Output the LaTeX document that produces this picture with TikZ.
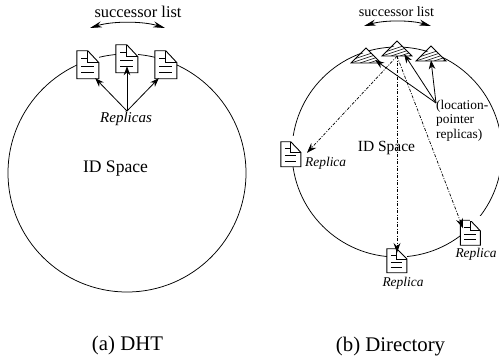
\documentclass[tikz,border=0pt]{standalone}
\usepackage{fontspec}
\setmainfont{Liberation Serif}
\usetikzlibrary{arrows.meta,calc}
\tikzset{
  ln/.style={line width=0.8pt,black},
  arr/.style={ln,-{Stealth[length=9pt,width=6.5pt]}},
  arrd/.style={line width=0.7pt,dash pattern=on 3pt off 1.5pt on 1pt off 1.5pt,-{Stealth[length=10pt,width=7pt,inset=3.5pt]}},
  twoarr/.style={ln,{Stealth[length=12pt,width=6pt]}-{Stealth[length=12pt,width=6pt]}},
  ringa/.style={circle,draw,line width=0.75pt,inner sep=0pt,minimum size=238pt},
  ringb/.style={circle,draw,line width=0.75pt,inner sep=0pt,minimum size=210pt},
  txt/.style={inner sep=0pt,anchor=base},
  mask/.style={fill=white,draw=none,inner sep=0pt}
}
\newcommand{\fs}[1]{\fontsize{#1}{#1}\selectfont}
% name, centre x, centre y, width, height
\newcommand{\docicon}[5]{%
  \node[mask,minimum width=#4pt,minimum height=#5pt] (#1) at (#2,#3) {};
  \begin{scope}[shift={(#1.north west)},line width=0.9pt,x=1pt,y=-1pt]
    \draw[fill=white] (0,0) -- ({#4*0.5},0) -- (#4,{#5*0.42}) -- (#4,#5) -- (0,#5) -- cycle;
    \draw[line width=0.7pt] ({#4*0.5},0) -- ({#4*0.5},{#5*0.42}) -- (#4,{#5*0.42});
    \draw[line width=0.7pt] ({#4*0.2},{#5*0.27}) -- ({#4*0.5},{#5*0.27});
    \draw[line width=0.7pt] ({#4*0.2},{#5*0.55}) -- ({#4*0.78},{#5*0.55});
    \draw[line width=0.7pt] ({#4*0.2},{#5*0.77}) -- ({#4*0.78},{#5*0.77});
  \end{scope}}
% name, apex x, apex y
\newcommand{\tricon}[3]{%
  \node[inner sep=0pt,minimum width=30pt,minimum height=15pt] (#1) at (#2,#3+7.5) {};
  \begin{scope}
    \clip (#2,#3) -- (#2+15,#3+15) -- (#2-15,#3+15) -- cycle;
    \fill[white] (#2-15,#3) rectangle (#2+15,#3+15);
    \foreach \k in {-30,-21,...,60}
      \draw[line width=0.5pt] (#2-15+\k-15,#3+15) -- (#2-15+\k+15,#3+5);
  \end{scope}
  \draw[line width=0.8pt] (#2,#3) -- (#2+15,#3+15) -- (#2-15,#3+15) -- cycle;}
\begin{document}
\begin{tikzpicture}[x=1pt,y=-1pt]
\useasboundingbox (0,0) rectangle (499,358);
\clip (0,0) rectangle (499,358);
\fill[white] (0,0) rectangle (499,358);
% left panel
\node[ringa] (c1) at (127,173) {};
\node[txt,font=\fs{16.4}] (t1) at (138,18) {successor list};
\coordinate (a1l) at (90,28);
\coordinate (a1r) at (165,28);
\draw[twoarr] (a1l) .. controls (112,21) and (143,21) .. (a1r);
\docicon{d1}{88}{65}{22}{28}
\docicon{d2}{127}{59}{22}{28}
\docicon{d3}{166}{65}{22}{28}
\node[txt,font=\fs{15}\itshape] (rp) at (126,123) {Replicas};
\coordinate (rs) at (127,111);
\draw[arr] (rs) -- ([xshift=-4pt,yshift=1pt]d1.south east);
\draw[arr] (rs) -- ([yshift=7pt]d2.south);
\draw[arr] (rs) -- ([xshift=4pt,yshift=1pt]d3.south west);
\node[txt,font=\fs{17.6}] (ids1) at (115.5,173) {ID Space};
\node[txt,font=\fs{20.8}] (cap1) at (127.5,351) {(a) DHT};
% right panel
\node[ringb] (c2) at (397,152) {};
\node[txt,font=\fs{14.2}] (t2) at (396.5,17) {successor list};
\coordinate (a2l) at (364,26);
\coordinate (a2r) at (431,26);
\draw[twoarr] (a2l) .. controls (384,20) and (411,20) .. (a2r);
\tricon{p1}{366}{48}
\tricon{p2}{397}{41}
\tricon{p3}{431}{46}
\fill[white] (288,136) rectangle (298,142);
\docicon{r1}{291}{154.5}{20}{25}
\docicon{r2}{397}{261}{20}{24}
\docicon{r3}{470.5}{233}{20}{25}
\fill[white] (470,216) rectangle (484,221);
\node[txt,anchor=base west,font=\fs{13.4}\itshape] (rl1) at (305,167) {Replica};
\node[txt,font=\fs{13.4}\itshape] (rl2) at (403,287) {Replica};
\node[txt,font=\fs{13.4}\itshape] (rl3) at (476,258) {Replica};
\node[txt,font=\fs{15.5}] (ids2) at (386.5,152) {ID Space};
\node[font=\fontsize{13.4}{14.5}\selectfont,align=left,anchor=north west,inner sep=0pt] (loc) at (436,100) {(location-\\pointer\\replicas)};
\coordinate (ls) at (436,103);
\draw[arr] (ls) -- ([yshift=1pt]p3.south);
\draw[arr] (ls) -- ([xshift=-8pt,yshift=2pt]p2.south east);
\draw[arr] (ls) -- ([xshift=-6pt,yshift=3pt]p1.south east);
\draw[arrd] (p2.south) -- ([xshift=16pt,yshift=-11pt]r1.north);
\draw[arrd] (p2.south) -- ([yshift=-4pt]r2.north);
\draw[arrd] (p2.south) -- ([xshift=-7.5pt,yshift=-8pt]r3.north);
\node[txt,font=\fs{20.8}] (cap2) at (390.5,351.5) {(b) Directory};
\end{tikzpicture}
\end{document}
